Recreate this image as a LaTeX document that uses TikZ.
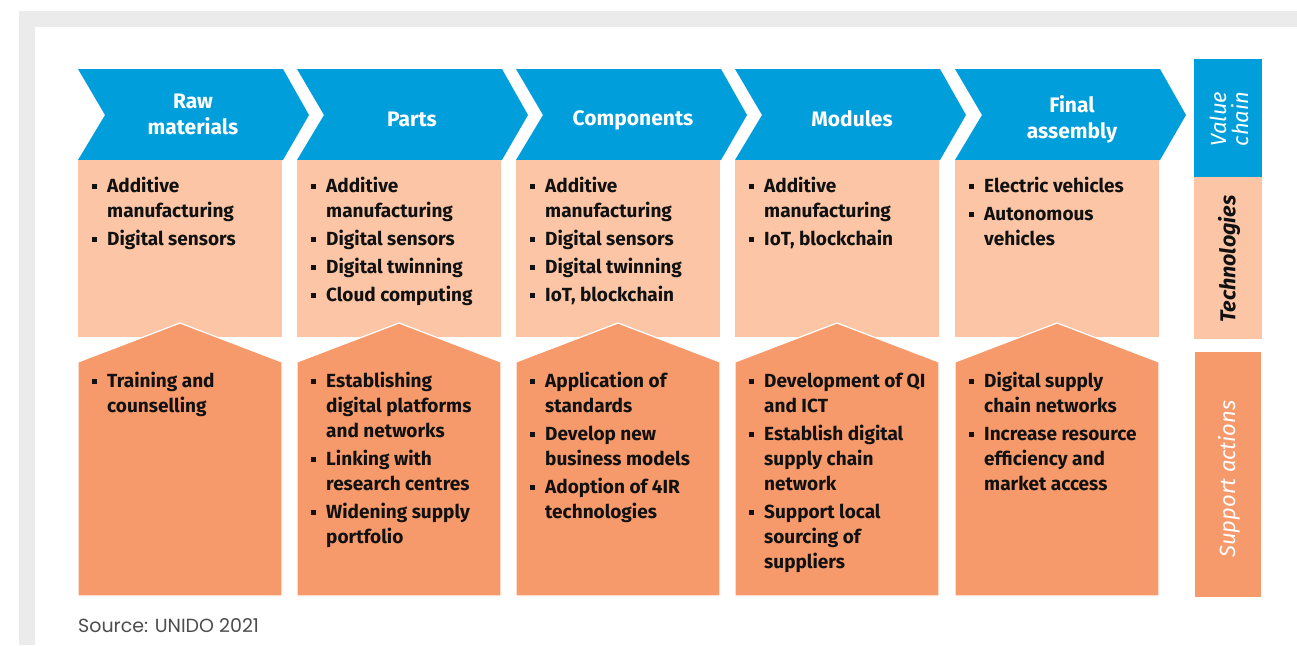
\documentclass[tikz,border=0pt]{standalone}
\usepackage{fontspec}
\setmainfont{Fira Sans}
\newfontfamily\srcfont{Poppins}
\definecolor{vblue}{HTML}{009EDB}
\definecolor{techpeach}{HTML}{FCC6A6}
\definecolor{suppfill}{HTML}{F6996B}
\definecolor{framegray}{HTML}{EBEBEB}
\definecolor{srcgray}{HTML}{4D4D4D}
\definecolor{txtblack}{HTML}{111111}
\newcommand\bl{\rule[3.2pt]{4.5pt}{4.5pt}}
\newenvironment{blist}{\begin{tabular}[t]{@{}l@{\hspace{10.5pt}}l@{}}}{\end{tabular}}
\tikzset{
  hdr/.style={text=white, font=\bfseries\fontsize{21}{26}\selectfont, align=center, inner sep=0pt},
  body/.style={anchor=base west, inner sep=0pt, text=txtblack, font=\bfseries\fontsize{19}{25}\selectfont},
  side/.style={rotate=90, align=center, inner sep=0pt, font=\itshape\fontsize{22}{22}\selectfont},
  chev/.style={fill=vblue},
  techbox/.style={fill=techpeach},
  suppbox/.style={fill=suppfill, draw=white, line width=1.2pt, line join=miter}
}
\begin{document}
\begin{tikzpicture}[x=1pt,y=-1pt]
\useasboundingbox (0,0) rectangle (1297,645);
\fill[white] (0,0) rectangle (1297,645);
\fill[framegray] (19,11) rectangle (1297,645);
\fill[white] (35,27) rectangle (1297,645);

\foreach \L in {78,297,516,735,955}{
  \fill[chev] (\L,69) -- ++(205,0) -- ++(26,46) -- ++(-26,45) -- (\L,160) -- ++(27,-45) -- cycle;
  \fill[techbox] (\L,160) rectangle ++(204,177);
  \filldraw[suppbox] (\L,596) -- (\L,362) -- ++(102,-39) -- ++(102,39) -- ++(0,234) -- cycle;
}

% headers
\node[hdr] (h1) at (193,114) {Raw\\materials};
\node[hdr] (h2) at (412,119) {Parts};
\node[hdr] (h3) at (633,120) {Components};
\node[hdr] (h4) at (852,119) {Modules};
\node[hdr] (h5) at (1072,119) {Final\\assembly};

% technologies
\node[body] (t1) at (92,192) {\begin{blist}\bl & Additive\\ & manufacturing\\[3pt] \bl & Digital sensors\end{blist}};
\node[body] (t2) at (311,192) {\begin{blist}\bl & Additive\\ & manufacturing\\[3pt] \bl & Digital sensors\\[3pt] \bl & Digital twinning\\[3pt] \bl & Cloud computing\end{blist}};
\node[body] (t3) at (530,192) {\begin{blist}\bl & Additive\\ & manufacturing\\[3pt] \bl & Digital sensors\\[3pt] \bl & Digital twinning\\[3pt] \bl & IoT, blockchain\end{blist}};
\node[body] (t4) at (749,192) {\begin{blist}\bl & Additive\\ & manufacturing\\[3pt] \bl & IoT, blockchain\end{blist}};
\node[body] (t5) at (969,192) {\begin{blist}\bl & Electric vehicles\\[3pt] \bl & Autonomous\\ & vehicles\end{blist}};

% support actions
\node[body] (s1) at (92,387) {\begin{blist}\bl & Training and\\ & counselling\end{blist}};
\node[body] (s2) at (311,387) {\begin{blist}\bl & Establishing\\ & digital platforms\\ & and networks\\[3pt] \bl & Linking with\\ & research centres\\[3pt] \bl & Widening supply\\ & portfolio\end{blist}};
\node[body] (s3) at (530,387) {\begin{blist}\bl & Application of\\ & standards\\[3pt] \bl & Develop new\\ & business models\\[3pt] \bl & Adoption of 4IR\\ & technologies\end{blist}};
\node[body] (s4) at (749,387) {\begin{blist}\bl & Development of QI\\ & and ICT\\[3pt] \bl & Establish digital\\ & supply chain\\ & network\\[3pt] \bl & Support local\\ & sourcing of\\ & suppliers\end{blist}};
\node[body] (s5) at (969,387) {\begin{blist}\bl & Digital supply\\ & chain networks\\[3pt] \bl & Increase resource\\ & efficiency and\\ & market access\end{blist}};

% side column
\fill[vblue] (1194,59) rectangle (1262,177);
\fill[techpeach] (1194,177) rectangle (1262,339);
\fill[suppfill] (1195,352) rectangle (1261,597);
\node[side, text=white] (lv) at (1229,119) {Value\\chain};
\node[side, text=txtblack, font=\bfseries\itshape\fontsize{21.5}{22}\selectfont] (lt) at (1229,259) {Technologies};
\node[side, text=white] (ls) at (1229,479) {Support actions};

% source
\node[anchor=base west, inner sep=0pt, text=srcgray, font=\srcfont\fontsize{19}{19}\selectfont] (src) at (78,632) {Source: UNIDO 2021};
\end{tikzpicture}
\end{document}
